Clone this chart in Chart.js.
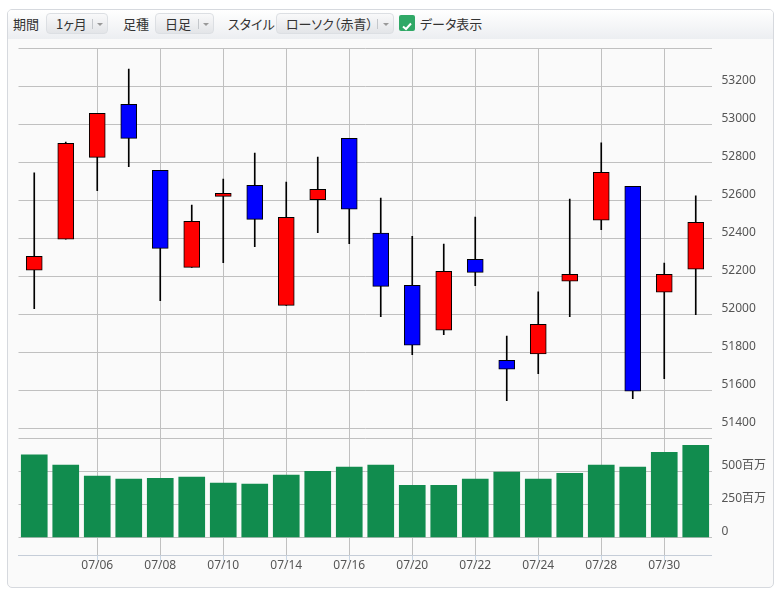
<!DOCTYPE html>
<html>
<head>
<meta charset="utf-8">
<script src="https://cdn.jsdelivr.net/npm/chart.js@4"></script>
<style>
  body { margin: 0; background: #fff; font-family: "Noto Sans CJK JP", "Noto Sans", sans-serif; }
  #panel { position: absolute; left: 7px; top: 9px; width: 765px; height: 577px;
    border: 1px solid #d6d9de; border-radius: 5px; background: #fafafa; overflow: hidden; }
  #bar { position: absolute; left: 0; top: 0; width: 765px; height: 29px;
    background: linear-gradient(#ffffff, #eceef1); }
  .lbl { position: absolute; top: 5px; font-size: 13px; color: #333; line-height: 18px;
    font-feature-settings: "palt"; }
  .btn { position: absolute; top: 3px; height: 21px; border: 1px solid #dcdfe3; border-radius: 4px;
    background: linear-gradient(#f9f9fa, #e3e5e8); font-size: 13px; color: #333; line-height: 20px;
    box-sizing: border-box; font-feature-settings: "palt"; }
  .btn span { position: absolute; left: 9px; top: 0; }
  .btn i { position: absolute; top: 5px; width: 1px; height: 10px; background: #c4c7cb; }
  .btn b { position: absolute; top: 9px; width: 0; height: 0; border-left: 3px solid transparent;
    border-right: 3px solid transparent; border-top: 3px solid #999; }
  #chk { position: absolute; left: 391px; top: 5px; width: 16px; height: 16px; border-radius: 2px; background: #2fa866; }
  #wrap { position: absolute; left: 0; top: 29px; width: 765px; height: 548px; }
</style>
</head>
<body>
<div id="panel">
  <div id="bar">
    <div class="lbl" style="left:5px">期間</div>
    <div class="btn" style="left:38px;width:62px"><span>1ヶ月</span><i style="left:45px"></i><b style="left:50px"></b></div>
    <div class="lbl" style="left:115px">足種</div>
    <div class="btn" style="left:147px;width:59px"><span>日足</span><i style="left:42px"></i><b style="left:47px"></b></div>
    <div class="lbl" style="left:220px">スタイル</div>
    <div class="btn" style="left:268px;width:118px"><span>ローソク（赤青）</span><i style="left:100px"></i><b style="left:106px"></b></div>
    <div id="chk"><svg width="16" height="16"><path d="M4 8.5 L7 11 L12 5.5" stroke="#fff" stroke-width="2" fill="none"/></svg></div>
    <div class="lbl" style="left:412px">データ表示</div>
  </div>
  <div id="wrap"><canvas id="myChart"></canvas></div>
</div>
<script>
const dates = ['07/02', '07/03', '07/06', '07/07', '07/08', '07/09', '07/10', '07/13', '07/14', '07/15', '07/16',
	'07/17', '07/20', '07/21', '07/22', '07/23', '07/24', '07/27', '07/28', '07/29', '07/30', '07/31']
const open = [52232, 52395, 52826, 53105, 52758, 52247, 52621, 52679, 52047, 52604, 52926,
	52428, 52153, 51916, 52289, 51758, 51791, 52174, 52495, 52674, 52116, 52237]
const close = [52305, 52900, 53058, 52926, 52347, 52489, 52637, 52500, 52511, 52658, 52553,
	52147, 51837, 52226, 52221, 51711, 51947, 52211, 52747, 51595, 52211, 52484]
const high = [52744, 52907, 53058, 53291, 52758, 52575, 52712, 52849, 52696, 52828, 52926,
	52612, 52411, 52370, 52512, 51886, 52118, 52607, 52902, 52674, 52270, 52623]
const low = [52030, 52395, 52651, 52777, 52072, 52247, 52272, 52356, 52047, 52430, 52372,
	51988, 51788, 51893, 52151, 51546, 51688, 51988, 52446, 51556, 51661, 51998]
// 出来高（百万株）
const volume = [626, 548, 465, 442, 449, 457, 412, 404, 472, 502, 533,
	548, 396, 396, 442, 495, 442, 487, 548, 533, 646, 699]
const priceTicks = [51400, 51600, 51800, 52000, 52200, 52400, 52600, 52800, 53000, 53200, 53400]
const volumeTicks = [0, 250, 500, 750]

// 右軸は幅固定、ラベル分の上下余白は取らない
const fixAxis = (axis) => {
	axis.width = 61.5
	axis.paddingTop = 0
	axis.paddingBottom = 0
}

const ctx = document.getElementById('myChart').getContext('2d')
const myChart = new Chart(ctx, {
	type: 'bar',
	data: {
		labels: dates,
		datasets: [
			{
				label: '出来高',
				data: volume,
				yAxisID: 'v',
				backgroundColor: '#118c4e',
				barThickness: 26,
				grouped: false,
				order: 3,
			},
			{
				label: '高安',
				data: dates.map((d, i) => [low[i], high[i]]),
				yAxisID: 'y',
				backgroundColor: '#000',
				barThickness: 1,
				grouped: false,
				order: 2,
			},
			{
				label: '始終',
				data: dates.map((d, i) => [open[i], close[i]]),
				yAxisID: 'y',
				backgroundColor: dates.map((d, i) => (close[i] >= open[i] ? '#ff0000' : '#0000ff')),
				borderColor: '#000',
				borderWidth: 1,
				borderSkipped: false,
				barThickness: 16,
				grouped: false,
				order: 1,
			},
		],
	},
	options: {
		responsive: true,
		maintainAspectRatio: false,
		animation: false,
		layout: { padding: { left: 10.5, top: 9.3, right: 0, bottom: 10 } },
		plugins: { legend: { display: false }, tooltip: { enabled: false } },
		scales: {
			x: {
				afterBuildTicks: (axis) => {
					axis.ticks = axis.ticks.filter((t) => t.value > 0 && t.value % 2 === 0)
				},
				afterFit: (axis) => { axis.height = 22 },
				grid: { offset: false, color: '#c0c0c0', tickColor: '#c9d6e4', tickLength: 6 },
				border: { color: '#c5cdd8' },
				ticks: { autoSkip: false, maxRotation: 0, color: '#555', padding: -3,
					font: { family: 'Noto Sans', size: 12 } },
			},
			y: {
				position: 'right',
				stack: 'pane',
				stackWeight: 3,
				min: 51400,
				max: 53400,
				afterBuildTicks: (axis) => { axis.ticks = priceTicks.map((v) => ({ value: v })) },
				afterFit: fixAxis,
				grid: { color: '#c0c0c0', drawTicks: false },
				border: { display: false },
				ticks: { color: '#555', padding: 10, labelOffset: -6,
					font: { family: 'Noto Sans', size: 12 },
					callback: (v) => (v === 53400 ? '' : v) },
			},
			v: {
				position: 'right',
				stack: 'pane',
				stackWeight: 1,
				min: -134,
				max: 828,
				afterBuildTicks: (axis) => { axis.ticks = volumeTicks.map((v) => ({ value: v })) },
				afterFit: fixAxis,
				grid: { color: '#c0c0c0', drawTicks: false },
				border: { display: false },
				ticks: { color: '#555', padding: 10, labelOffset: -6,
					font: { family: "'Noto Sans', 'Noto Sans CJK JP'", size: 12 },
					callback: (v) => (v === 750 ? '' : v === 0 ? '0' : v + '百万') },
			},
		},
	},
})
</script>
</body>
</html>
